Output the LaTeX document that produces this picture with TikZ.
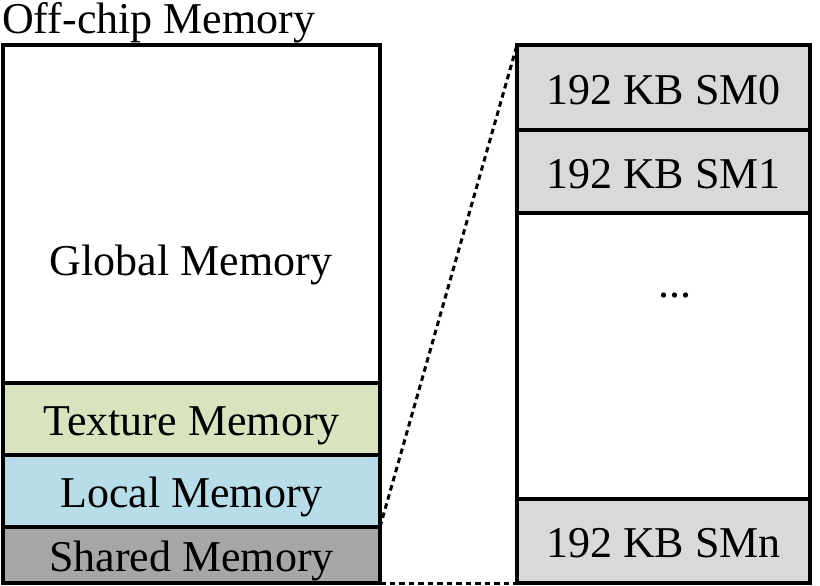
\documentclass[tikz,border=0pt]{standalone}
\usepackage{fontspec}
\setmainfont{Liberation Serif}
\definecolor{texgreen}{HTML}{D7E4BD}
\definecolor{locblue}{HTML}{B7DEE8}
\definecolor{shgray}{HTML}{A6A6A6}
\definecolor{smgray}{HTML}{D9D9D9}
\tikzset{
  membox/.style={draw=black, line width=3.4pt, anchor=north west, inner sep=0pt, outer sep=0pt,
    font=\fontsize{44}{52}\selectfont, text height=42pt, text depth=9pt},
  zoomline/.style={line width=3pt, dash pattern=on 5.5pt off 4pt}
}
\begin{document}
\begin{tikzpicture}[x=1pt,y=-1pt]
\useasboundingbox (0,0) rectangle (820,586);
\node[anchor=base west, inner sep=0pt, font=\fontsize{44}{52}\selectfont] (title) at (2,34) {Off-chip Memory};
% left column
\node[membox, fill=white, minimum width=377pt, minimum height=338pt] (global) at (3,45) {};
\node[anchor=base, inner sep=0pt, font=\fontsize{44}{52}\selectfont] (globaltxt) at (191,275) {Global Memory};
\node[membox, fill=texgreen, minimum width=377pt, minimum height=72pt] (texture) at (3,383) {Texture Memory};
\node[membox, fill=locblue, minimum width=377pt, minimum height=72pt] (local) at (3,455) {Local Memory};
\node[membox, fill=shgray, minimum width=377pt, minimum height=56pt] (shared) at (3,527) {Shared Memory};
% right column
\node[membox, fill=smgray, minimum width=293pt, minimum height=85pt] (sm0) at (517,45) {192 KB SM0};
\node[membox, fill=smgray, minimum width=293pt, minimum height=83pt] (sm1) at (517,130) {192 KB SM1};
\node[membox, fill=white, minimum width=293pt, minimum height=286pt] (mid) at (517,213) {};
\node[anchor=base, inner sep=0pt, font=\fontsize{44}{52}\selectfont] (dots) at (675,297) {...};
\node[membox, fill=smgray, minimum width=293pt, minimum height=84pt] (smn) at (517,499) {192 KB SMn};
% zoom lines
\draw[zoomline] (local.south east) -- (sm0.north west);
\draw[zoomline] (shared.south east) -- (smn.south west);
\end{tikzpicture}
\end{document}
